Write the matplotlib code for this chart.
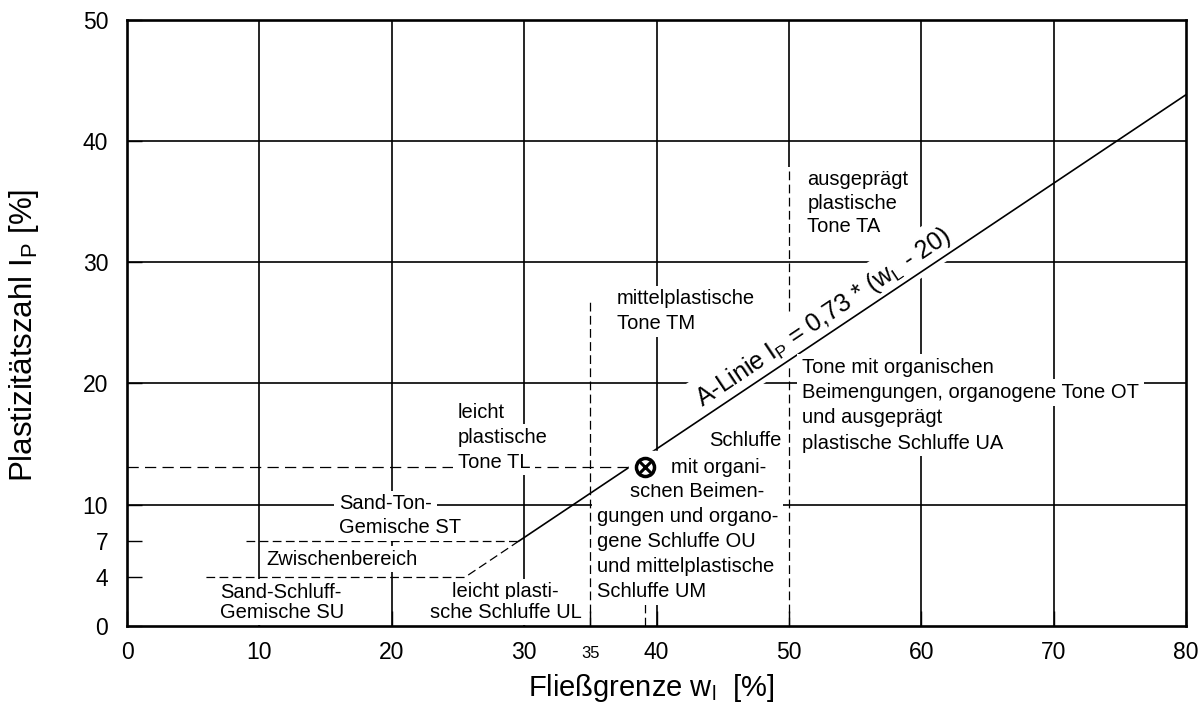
import matplotlib
matplotlib.use("Agg")
import matplotlib.pyplot as plt
from matplotlib.path import Path

plt.rcParams['font.family'] = ['Liberation Sans', 'DejaVu Sans']
plt.rcParams['mathtext.default'] = 'regular'

# ticks
x_ticks = [0, 10, 20, 30, 40, 50, 60, 70, 80]
x_extra_tick = [35]
y_ticks = [0, 4, 7, 10, 20, 30, 40, 50]

# solid grid lines (x=50 only drawn above the TA boundary)
grid_x = [10, 20, 30, 40, 50, 60, 70]
grid_x_from = [0, 0, 0, 0, 37.8, 0, 0]
grid_y = [10, 20, 30, 40]

# A-line Ip = 0.73 * (wL - 20), end points
a_line_wl = [29.6, 80.0]
a_line_ip = [7.0, 43.8]

# dashed boundaries
lower_wl = [6.0, 25.5, 29.6]      # Ip = 4 then along A-line up to Ip = 7
lower_ip = [4.0, 4.0, 7.0]
upper_wl = [9.0, 29.6]
upper_ip = [7.0, 7.0]
wl35_top = 27.0
wl50_top = 37.8

# sample point
sample_wl = 39.1
sample_ip = 13.1

# zone labels: text, x, y, alignment
labels = [
    ("ausgeprägt", 51.4, 36.85, "left"),
    ("plastische", 51.4, 34.87, "left"),
    ("Tone TA", 51.4, 32.9, "left"),
    ("mittelplastische", 37.0, 26.96, "left"),
    ("Tone TM", 37.0, 24.9, "left"),
    ("Tone mit organischen", 51.0, 21.33, "left"),
    ("Beimengungen, organogene Tone OT", 51.0, 19.24, "left"),
    ("und ausgeprägt", 51.0, 17.2, "left"),
    ("plastische Schluffe UA", 51.0, 15.06, "left"),
    ("leicht", 25.0, 17.64, "left"),
    ("plastische", 25.0, 15.58, "left"),
    ("Tone TL", 25.0, 13.52, "left"),
    ("Schluffe", 44.0, 15.33, "left"),
    ("mit organi-", 41.06, 13.08, "left"),
    ("schen Beimen-", 38.0, 11.07, "left"),
    ("gungen und organo-", 35.5, 9.01, "left"),
    ("gene Schluffe OU", 35.5, 6.95, "left"),
    ("und mittelplastische", 35.5, 4.89, "left"),
    ("Schluffe UM", 35.5, 2.83, "left"),
    ("Sand-Ton-", 16.0, 10.06, "left"),
    ("Gemische ST", 16.0, 8.08, "left"),
    ("Zwischenbereich", 10.5, 5.5, "left"),
    ("Sand-Schluff-", 7.0, 2.8, "left"),
    ("Gemische SU", 7.0, 1.13, "left"),
    ("leicht plasti-", 28.6, 2.83, "center"),
    ("sche Schluffe UL", 28.6, 1.15, "center"),
]

a_label = "A-Linie $I_P$ = 0,73 * ($w_L$ - 20)"
a_label_pos = (52.6, 25.4)


def make_box(padx, pady):
    # white box with separate horizontal / vertical padding
    def box(x0, y0, width, height, mutation_size):
        px = padx * mutation_size
        py = pady * mutation_size
        return Path([(x0 - px, y0 - py), (x0 + width + px, y0 - py),
                     (x0 + width + px, y0 + height + py), (x0 - px, y0 + height + py),
                     (x0 - px, y0 - py)], closed=True)
    return box


fig = plt.figure(figsize=(12, 7.05), dpi=100)
ax = fig.add_axes([127 / 1200, 79 / 705, 1059 / 1200, 606.5 / 705])

ax.vlines(grid_x, grid_x_from, 50, color='k', lw=1.2, zorder=1)
ax.hlines(grid_y, 0, 80, color='k', lw=1.2, zorder=1)

dash_kw = dict(color='k', lw=0.9, ls=(0, (7, 3.5)), zorder=2)
ax.plot(lower_wl, lower_ip, **dash_kw)
ax.plot(upper_wl, upper_ip, **dash_kw)
ax.vlines([35], 0, wl35_top, **dash_kw)
ax.vlines([50], 0, wl50_top, **dash_kw)
ax.hlines([sample_ip], 0, sample_wl, color='k', lw=0.9, ls=(0, (9, 5)), zorder=2)
ax.vlines([sample_wl], 0, sample_ip, **dash_kw)

ax.plot(a_line_wl, a_line_ip, color='k', lw=1.2, zorder=2.7)
ax.text(*a_label_pos, a_label, fontsize=18, rotation=33.8, rotation_mode='anchor',
        ha='center', va='center', zorder=2.5,
        bbox=dict(boxstyle=make_box(0.3, 0.3), fc='white', ec='none'))

box = make_box(0.25, 0.18)
for txt, x, y, ha in labels:
    ax.text(x, y, txt, fontsize=14.5, ha=ha, va='center', zorder=3,
            bbox=dict(boxstyle=box, fc='white', ec='none'))

# sample point with white mask
ax.plot(sample_wl, sample_ip, marker='s', ms=23, color='white', zorder=3.5)
ax.plot(sample_wl, sample_ip, marker='o', ms=13, mfc='none', mec='k', mew=2.5, zorder=4)
ax.plot(sample_wl, sample_ip, marker='x', ms=10, mec='k', mew=2.2, zorder=4)

ax.set_xlim(0, 80)
ax.set_ylim(0, 50)
ax.set_xticks(x_ticks)
ax.set_xticks(x_extra_tick, minor=True, labels=[str(v) for v in x_extra_tick])
ax.set_yticks(y_ticks)
ax.tick_params(which='both', direction='in', length=10.5, width=1, labelsize=16.5, color='k')
ax.tick_params(axis='x', which='major', pad=10.5)
ax.tick_params(axis='x', which='minor', labelsize=12, pad=14.5)
ax.tick_params(axis='y', pad=13.5)

for s in ax.spines.values():
    s.set_linewidth(1.9)
    s.set_zorder(2.6)

ax.set_xlabel("Fließgrenze $w_l$  [%]", fontsize=21, va='center')
ax.xaxis.set_label_coords(0.495, -0.102)
ax.set_ylabel("Plastizitätszahl $I_P$ [%]", fontsize=22.5, va='center')
ax.yaxis.set_label_coords(-0.0968, 0.479)

fig.savefig("out.png", dpi=100)
